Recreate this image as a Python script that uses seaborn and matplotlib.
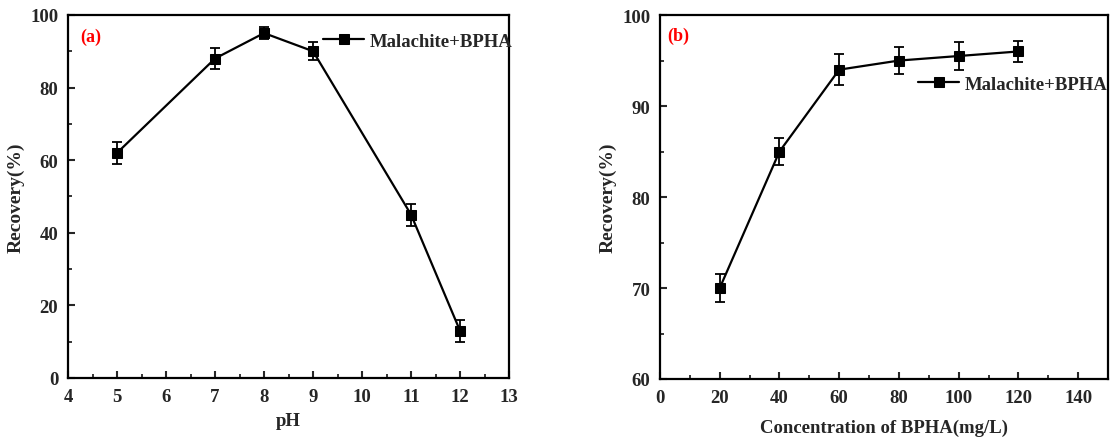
import matplotlib
matplotlib.use("Agg")
import matplotlib.pyplot as plt
import seaborn as sns
import pandas as pd
from matplotlib.ticker import MultipleLocator

# Data
ph = [5, 7, 8, 9, 11, 12]
rec_ph = [62, 88, 95, 90, 45, 13]
err_ph = [3, 3, 1.6, 2.5, 3, 3]

conc = [20, 40, 60, 80, 100, 120]
rec_conc = [70, 85, 94, 95, 95.5, 96]
err_conc = [1.5, 1.5, 1.7, 1.5, 1.5, 1.2]

series_label = "Malachite+BPHA"

sns.set_theme(style="ticks")
plt.rcParams['font.family'] = ['Liberation Serif', 'DejaVu Serif']
plt.rcParams['font.weight'] = 'bold'
plt.rcParams['axes.labelweight'] = 'bold'

fig = plt.figure(figsize=(11.10, 4.39), dpi=100)
ax1 = fig.add_axes([0.0613, 0.1367, 0.3973, 0.827])
ax2 = fig.add_axes([0.5946, 0.1344, 0.4036, 0.829])

def draw(ax, x, y, e, xlabel, xlim, ylim, xmaj, xmin, ymaj, ymin, panel, leg_xy, panel_xy, xpad):
    df = pd.DataFrame({"x": x, "y": y})
    sns.lineplot(data=df, x="x", y="y", ax=ax, color="black", marker="s",
                 markersize=7, linewidth=1.6, markeredgecolor="black",
                 label=series_label, zorder=3)
    ax.errorbar(x, y, yerr=e, fmt="none", ecolor="black", elinewidth=1.3,
                capsize=3.8, capthick=1.3, zorder=2)
    ax.set_xlim(*xlim)
    ax.set_ylim(*ylim)
    ax.xaxis.set_major_locator(MultipleLocator(xmaj))
    ax.xaxis.set_minor_locator(MultipleLocator(xmin))
    ax.yaxis.set_major_locator(MultipleLocator(ymaj))
    ax.yaxis.set_minor_locator(MultipleLocator(ymin))
    ax.tick_params(which="major", direction="in", length=5, width=1.5,
                   labelsize=13.5, top=False, right=False, pad=7)
    ax.tick_params(which="minor", direction="in", length=3, width=1.3,
                   top=False, right=False)
    for lab in ax.get_xticklabels() + ax.get_yticklabels():
        lab.set_fontweight("bold")
    for s in ax.spines.values():
        s.set_linewidth(1.6)
        s.set_visible(True)
        s.set_color("black")
    ax.set_xlabel(xlabel, fontsize=13.5, fontweight="bold", labelpad=xpad)
    ax.set_ylabel("Recovery(%)", fontsize=14, fontweight="bold", labelpad=4)
    leg = ax.legend(loc="center left", bbox_to_anchor=leg_xy, frameon=False,
                    fontsize=13.5, handlelength=2.2, handletextpad=0.3,
                    borderpad=0, borderaxespad=0)
    for t in leg.get_texts():
        t.set_fontweight("bold")
    ax.text(panel_xy[0], panel_xy[1], panel, transform=ax.transAxes,
            color="red", fontsize=13, fontweight="bold", va="center", ha="left")

draw(ax1, ph, rec_ph, err_ph, "pH", (4, 13), (0, 100), 1, 0.5, 20, 10,
     "(a)", (0.578, 0.928), (0.027, 0.94), 5)
draw(ax2, conc, rec_conc, err_conc, "Concentration of BPHA(mg/L)", (0, 150), (60, 100),
     20, 10, 10, 5, "(b)", (0.576, 0.81), (0.016, 0.945), 9)

fig.savefig("out.png", dpi=100)
